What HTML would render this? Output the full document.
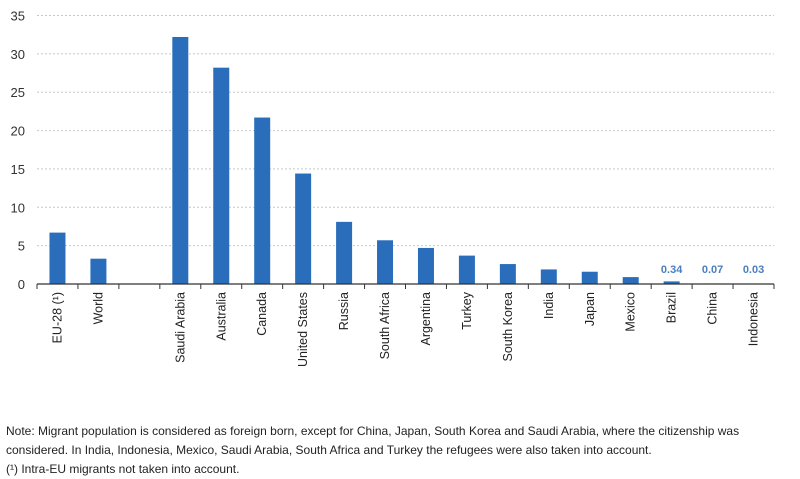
<!DOCTYPE html>
<html><head><meta charset="utf-8"><style>
body{margin:0;background:#fff;width:800px;height:474px;overflow:hidden;font-family:"Liberation Sans",sans-serif}
svg text{font-family:"Liberation Sans",sans-serif}
.note{position:absolute;left:6px;font-size:12px;color:#222;line-height:19px}
</style></head><body>
<svg id="chart" width="800" height="420" style="position:absolute;left:0;top:0"></svg>
<div class="note" style="top:422px">Note: Migrant population is considered as foreign born, except for China, Japan, South Korea and Saudi Arabia, where the citizenship was<br>considered. In India, Indonesia, Mexico, Saudi Arabia, South Africa and Turkey the refugees were also taken into account.<br>(¹) Intra-EU migrants not taken into account.</div>
<script>
const categories=["EU-28 (¹)","World","","Saudi Arabia","Australia","Canada","United States","Russia","South Africa","Argentina","Turkey","South Korea","India","Japan","Mexico","Brazil","China","Indonesia"];
const values=[6.7,3.3,null,32.2,28.2,21.7,14.4,8.1,5.7,4.7,3.7,2.6,1.9,1.6,0.9,0.34,0.07,0.03];
const labelled=["Brazil","China","Indonesia"];
const yTicks=[0,5,10,15,20,25,30,35];
const NS="http://www.w3.org/2000/svg";
const svg=document.getElementById('chart');
const x0=37,x1=774,y0=284,yTop=15.5,yMax=35;
const slot=(x1-x0)/categories.length;
function y(v){return y0-(v/yMax)*(y0-yTop);}
function xc(i){return x0+slot*(i+0.5);}
function mk(t,a){const e=document.createElementNS(NS,t);for(const k in a)e.setAttribute(k,a[k]);svg.appendChild(e);return e;}
yTicks.forEach(t=>{
  if(t>0){const g=mk('line',{x1:x0,x2:x1,y1:y(t),y2:y(t),stroke:'#c8c8c8','stroke-dasharray':'2,2'});
  
  }
  const l=mk('text',{x:25,y:y(t)+5,'text-anchor':'end','font-size':'13',fill:'#333'});
  l.textContent=t;
  
  
});
categories.forEach((c,i)=>{
  const v=values[i];
  if(v!==null){
    const b=mk('rect',{x:xc(i)-8,y:y(v),width:16,height:y0-y(v),fill:'#2a6ebb'});
    
    
    if(labelled.includes(c)){
      const t=mk('text',{x:xc(i),y:273,'text-anchor':'middle','font-size':'11','font-weight':'bold',fill:'#4a7ebf'});
      t.textContent=v.toFixed(2);
      
      
    }
  }
  if(c){
    const t=mk('text',{transform:`translate(${xc(i)+4},292) rotate(-90)`,'text-anchor':'end','font-size':'12.5',fill:'#222'});
    t.textContent=c;
    
    
  }
});
for(let i=0;i<=categories.length;i++){
  const tk=mk('line',{x1:x0+slot*i,x2:x0+slot*i,y1:y0,y2:y0+5,stroke:'#333'});
  
  
}
const ax=mk('line',{x1:x0,x2:x1,y1:y0,y2:y0,stroke:'#333','stroke-width':1.3});


</script>
</body></html>
